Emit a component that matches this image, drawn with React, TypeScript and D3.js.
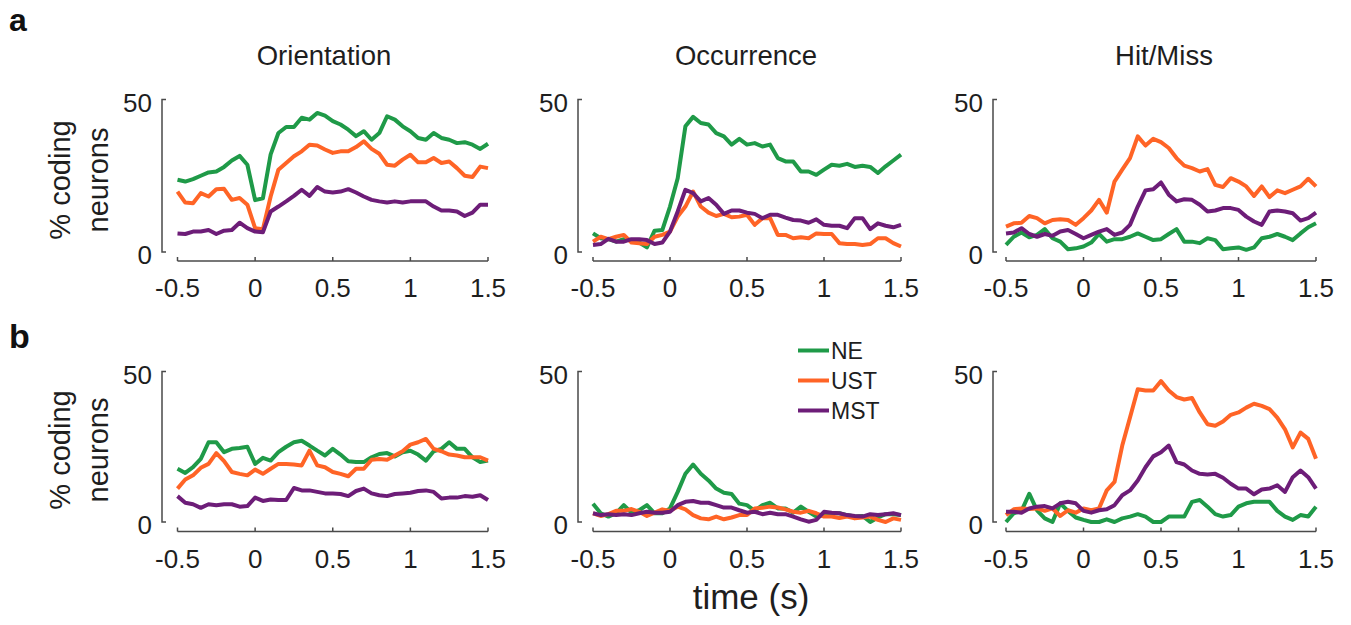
import React from 'react';
import * as d3 from 'd3';

// time bins (s)
const TIME = [-0.5, -0.45, -0.4, -0.35, -0.3, -0.25, -0.2, -0.15, -0.1, -0.05, 0, 0.05, 0.1, 0.15, 0.2, 0.25, 0.3, 0.35, 0.4, 0.45, 0.5, 0.55, 0.6, 0.65, 0.7, 0.75, 0.8, 0.85, 0.9, 0.95, 1, 1.05, 1.1, 1.15, 1.2, 1.25, 1.3, 1.35, 1.4, 1.45, 1.5];

const X_TICKS = [-0.5, 0, 0.5, 1, 1.5];
const Y_TICKS = [0, 50];
const TITLES = ['Orientation', 'Occurrence', 'Hit/Miss'];
const SERIES = ['NE', 'UST', 'MST'];
const COLORS = ['#1f9a48', '#ff6426', '#6d1d78'];

// row a
const A_ORI_NE = [23.7, 23.1, 23.9, 25, 26.1, 26.4, 27.9, 30, 31.5, 28.6, 17, 17.6, 32, 39, 41, 41, 44, 43.4, 45.6, 44.7, 42.9, 41.8, 40.1, 38, 39.6, 36.8, 39, 44.5, 43.4, 41.2, 39.6, 37.4, 36.8, 39, 37.4, 36.8, 35.7, 36, 35.2, 33.8, 35.5];
const A_ORI_UST = [19.8, 16.2, 16, 19.3, 18.2, 20.6, 20.7, 17.1, 17.7, 15.5, 7.8, 7.5, 18.2, 27, 29.2, 31.4, 33, 35.2, 34.9, 33.6, 32.5, 33, 33, 34.4, 36.3, 33.8, 32.2, 28.6, 28.3, 30.3, 31.9, 29.4, 29.4, 30.8, 29.2, 29.7, 27.5, 25, 24.6, 28, 27.5];
const A_ORI_MST = [6.1, 5.9, 6.7, 6.7, 7.2, 5.9, 7, 7.2, 9.6, 7.8, 6.7, 6.5, 13.3, 14.9, 16.6, 18.4, 20.4, 18.4, 21.3, 19.8, 19.5, 19.8, 20.6, 19.5, 18.2, 17.1, 16.6, 16.2, 16.6, 16.2, 16.6, 16.6, 16.6, 14.9, 13.6, 13.6, 13.3, 11.8, 12.9, 15.5, 15.5];

const A_OCC_NE = [6.1, 4.5, 4.2, 3.4, 4.2, 3.9, 3.1, 1.5, 7, 7.2, 14.9, 24.2, 41.2, 44.3, 42.3, 41.8, 39, 37.9, 35.2, 37.1, 35.2, 35.7, 34.6, 35.2, 30.8, 29.7, 29.7, 26.4, 26.4, 25.3, 27, 28.6, 28.3, 28.9, 27.9, 28.3, 27.9, 25.9, 28.1, 30, 31.9];
const A_OCC_UST = [3.4, 5, 4.2, 5, 5.6, 3.1, 2.9, 2.6, 5, 5.6, 6.7, 11.6, 14.9, 19.8, 14.9, 12.9, 11.8, 12.5, 11.4, 11.6, 12.2, 8.9, 11.1, 11.1, 5.6, 5.6, 4.5, 4.8, 4.5, 6.1, 5.9, 5.9, 2.9, 2.6, 2.6, 2.3, 2.6, 4.5, 4.5, 2.9, 1.8];
const A_OCC_MST = [2.3, 2.6, 4.3, 3.4, 3.4, 4.2, 4.2, 3.9, 2.6, 3.1, 6.7, 13.3, 20.4, 19.3, 16.6, 17.7, 15.5, 12.5, 13.6, 13.6, 12.9, 12.5, 11.1, 12.2, 12.2, 11.3, 10.5, 10.3, 9.6, 10.7, 8.9, 8.6, 8.6, 7.8, 11.1, 11.1, 7.5, 9.4, 8.6, 8.1, 8.9];

const A_HIT_NE = [2.3, 5, 6.4, 4.8, 5.6, 7.5, 4.5, 3.4, 0.9, 1.2, 1.8, 3.1, 5.9, 3.4, 4.2, 4.2, 5, 6.1, 5, 3.9, 4.2, 5.9, 7.5, 3.4, 3.4, 2.9, 4.5, 3.9, 0.9, 1.2, 1.5, 0.7, 1.5, 4.5, 5, 5.9, 5, 3.9, 6.1, 8.1, 9.4];
const A_HIT_UST = [8.3, 9.4, 9.6, 11.8, 11.1, 9.4, 10.5, 10.7, 10.5, 8.9, 11.1, 13.6, 17.1, 12.9, 23.1, 27, 30.8, 37.9, 34.9, 37.1, 36, 34.1, 30.8, 28.3, 27.5, 26.4, 27.2, 22, 21.3, 24.2, 23.1, 21.5, 18.4, 21.5, 18, 20.2, 19.3, 20.4, 21.5, 24, 21.5];
const A_HIT_MST = [6.1, 6.4, 7.8, 5.9, 5, 5.9, 5.3, 6.7, 7.2, 5.9, 4.5, 5.6, 6.7, 7.5, 5.6, 6.4, 8.9, 14.9, 20.2, 20.6, 22.8, 18.8, 16.6, 17.3, 17.1, 15.5, 13.3, 13.6, 14.4, 14.4, 13.8, 11.6, 10, 8.9, 13.3, 13.6, 13.3, 12.7, 10.3, 11.1, 12.9];

// row b
const B_ORI_NE = [17.7, 16.3, 18.2, 21, 26.5, 26.5, 23.2, 24.3, 24.6, 25, 19.3, 21.3, 20.4, 23.2, 25, 26.5, 27, 25.4, 23.7, 22.1, 24.3, 22.4, 20.2, 19.9, 19.9, 21.5, 22.6, 22.9, 21.8, 23.2, 23.7, 22.4, 20.4, 23.5, 24.3, 26.5, 24.3, 24.3, 21.5, 19.9, 20.4];
const B_ORI_UST = [11.1, 14.1, 15.5, 18, 19.3, 22.9, 20.2, 16.6, 16, 15.5, 17.4, 16, 17.7, 19.3, 19.3, 19.1, 18.8, 23.7, 18.8, 18.2, 16.6, 16, 15.2, 17.7, 17.7, 20.7, 20.9, 20.7, 22.1, 23.5, 25.7, 26.5, 27.6, 24.3, 23.5, 22.4, 22.1, 21.5, 21.5, 21.5, 20.4];
const B_ORI_MST = [8.6, 6.4, 5.9, 4.7, 5.9, 5.6, 5.9, 5.9, 5.1, 5.3, 8.1, 7, 7.5, 7.3, 7.3, 11.3, 10.5, 10.5, 10, 9.5, 9.5, 9.3, 8.6, 10.3, 11.1, 9.5, 8.9, 8.6, 9.3, 9.5, 9.7, 10.3, 10.5, 10, 7.8, 8.1, 8.1, 8.6, 8.4, 8.9, 7.3];

const B_OCC_NE = [6.1, 2.9, 1.8, 2.9, 5.6, 3.1, 3.9, 5.6, 2.9, 2.9, 4.5, 10, 16, 19.1, 16, 13.8, 11.1, 9.7, 9.3, 6.1, 5.6, 3.7, 5.6, 6.4, 4.5, 4.5, 3.1, 5.1, 3.4, 1.8, 2.3, 2.9, 2.9, 2.3, 1.8, 2, 0, 1.5, 2.6, 2.6, 2.3];
const B_OCC_UST = [2.9, 2, 2.6, 3.7, 3.7, 4.3, 3.4, 2, 3.1, 4.2, 3.7, 5.1, 4.2, 2.3, 1.2, 0.9, 1.8, 0.9, 1.5, 2.3, 2.3, 4.5, 4.7, 5.1, 4.8, 4.2, 3.4, 3.1, 3.7, 2.9, 1.8, 1.8, 1.3, 1.8, 1.2, 1.5, 1.8, 0.7, 0, 1.2, 0.7];
const B_OCC_MST = [2.9, 2.3, 2.6, 2.3, 2.6, 2.3, 2.9, 3.4, 3.1, 3.1, 3.4, 5.6, 6.7, 7, 6.4, 6.4, 5.6, 4.8, 4.8, 3.9, 3.1, 3.4, 2.6, 3.1, 2.6, 2.6, 1.8, 0.9, 0.1, 0.7, 3.4, 3.1, 2.9, 2.3, 2, 1.8, 2.6, 2.3, 2.6, 2.9, 2.3];

const B_HIT_NE = [0, 2.9, 3.7, 9.4, 3.9, 1.2, 0, 6.2, 3.7, 1.5, 0.7, 0, 0, 0.9, 0, 1.2, 1.8, 2.6, 1.8, 0, 0, 1.8, 1.8, 1.8, 6.7, 7.3, 5.1, 2.6, 1.8, 2.3, 5.1, 6.2, 6.7, 6.7, 6.7, 3.7, 1.8, 0.7, 2.3, 1.8, 5.1];
const B_HIT_UST = [2.3, 4.2, 4.5, 4.3, 4.5, 3.7, 4.5, 2, 3.9, 3.1, 4.5, 3.9, 4.5, 10.5, 13.3, 25.4, 34.7, 44.1, 43.7, 43.7, 46.8, 43.7, 41.5, 40.7, 41.2, 36.4, 32.5, 32, 33.4, 35.6, 36.4, 38, 39.3, 38.6, 37.5, 34.7, 30.8, 24.8, 29.7, 27.6, 21];
const B_HIT_MST = [3.4, 3.4, 3.1, 4.5, 5.1, 5.3, 4.5, 6.2, 6.7, 6.2, 3.7, 3.1, 3.9, 4.2, 5.6, 8.9, 10.5, 13.8, 18.2, 21.8, 23.2, 25.4, 19.9, 19.1, 17.1, 16, 15.8, 16, 14.7, 12.7, 11.1, 11.1, 9.2, 10.8, 11.1, 12.2, 10, 14.9, 17.1, 14.9, 11.1];

const panels = [
  {row: 0, col: 0, series: [A_ORI_NE, A_ORI_UST, A_ORI_MST]},
  {row: 0, col: 1, series: [A_OCC_NE, A_OCC_UST, A_OCC_MST]},
  {row: 0, col: 2, series: [A_HIT_NE, A_HIT_UST, A_HIT_MST]},
  {row: 1, col: 0, series: [B_ORI_NE, B_ORI_UST, B_ORI_MST]},
  {row: 1, col: 1, series: [B_OCC_NE, B_OCC_UST, B_OCC_MST]},
  {row: 1, col: 2, series: [B_HIT_NE, B_HIT_UST, B_HIT_MST]},
];

// layout
const colX = [[177.5, 488], [593, 901], [1006, 1316]];
const yAxisX = [162, 578, 993];
const rowY = [[252, 99.5], [522, 371.5]]; // [y(0), y(50)]
const xAxisY = [261, 531.5];
const FONT = '"Liberation Sans", Arial, sans-serif';
const AXIS = '#4a4a4a';
const TXT = '#1e1e1e';

const Panel = ({p}) => {
  const x = d3.scaleLinear().domain([-0.5, 1.5]).range(colX[p.col]);
  const y = d3.scaleLinear().domain([0, 50]).range(rowY[p.row]);
  const line = d3.line().x((d, i) => x(TIME[i])).y(d => y(d));
  const ax = yAxisX[p.col];
  const ay = xAxisY[p.row];
  return (
    <g>
      {/* y axis bracket */}
      <path d={`M${ax + 4},${y(50)}H${ax}V${y(0)}H${ax + 4}`} fill="none" stroke={AXIS} strokeWidth={1.5} />
      {Y_TICKS.map(t => (
        <text key={t} x={ax - 10} y={y(t) + 12} textAnchor="end" fontSize={26} fill={TXT} fontFamily={FONT}>{t}</text>
      ))}
      {/* x axis */}
      <line x1={x(-0.5)} x2={x(1.5)} y1={ay} y2={ay} stroke={AXIS} strokeWidth={1.5} />
      {X_TICKS.map(t => (
        <g key={t}>
          <line x1={x(t)} x2={x(t)} y1={ay} y2={ay - 4} stroke={AXIS} strokeWidth={1.5} />
          <text x={x(t)} y={ay + 36} textAnchor="middle" fontSize={26} fill={TXT} fontFamily={FONT}>{t}</text>
        </g>
      ))}
      {p.series.map((s, k) => (
        <path key={k} d={line(s)} fill="none" stroke={COLORS[k]} strokeWidth={4} strokeLinejoin="round" />
      ))}
    </g>
  );
};

export default function App() {
  const titleX = [324, 746, 1164];
  return (
    <svg width={1351} height={625} style={{position: 'absolute', left: 0, top: 0, background: '#fff'}}>
      <text x={9} y={31} fontSize={32} fontWeight="bold" fill="#111" fontFamily={FONT}>a</text>
      <text x={9} y={348} fontSize={34} fontWeight="bold" fill="#111" fontFamily={FONT}>b</text>
      {TITLES.map((t, i) => (
        <text key={t} x={titleX[i]} y={65} textAnchor="middle" fontSize={27.5} fill={TXT} fontFamily={FONT}>{t}</text>
      ))}
      {[180, 450].map(cy => (
        <g key={cy} transform={`translate(0,${cy}) rotate(-90)`}>
          <text x={0} y={70} textAnchor="middle" fontSize={29} fill={TXT} fontFamily={FONT}>% coding</text>
          <text x={0} y={108} textAnchor="middle" fontSize={29} fill={TXT} fontFamily={FONT}>neurons</text>
        </g>
      ))}
      {panels.map((p, i) => <Panel key={i} p={p} />)}
      {SERIES.map((s, i) => (
        <g key={s} transform={`translate(798,${350.5 + i * 30})`}>
          <line x1={0} x2={31} y1={0} y2={0} stroke={COLORS[i]} strokeWidth={4} />
          <text x={33} y={8} fontSize={23} fill={TXT} fontFamily={FONT}>{s}</text>
        </g>
      ))}
      <text x={751} y={609} textAnchor="middle" fontSize={35} fill={TXT} fontFamily={FONT}>time (s)</text>
    </svg>
  );
}
